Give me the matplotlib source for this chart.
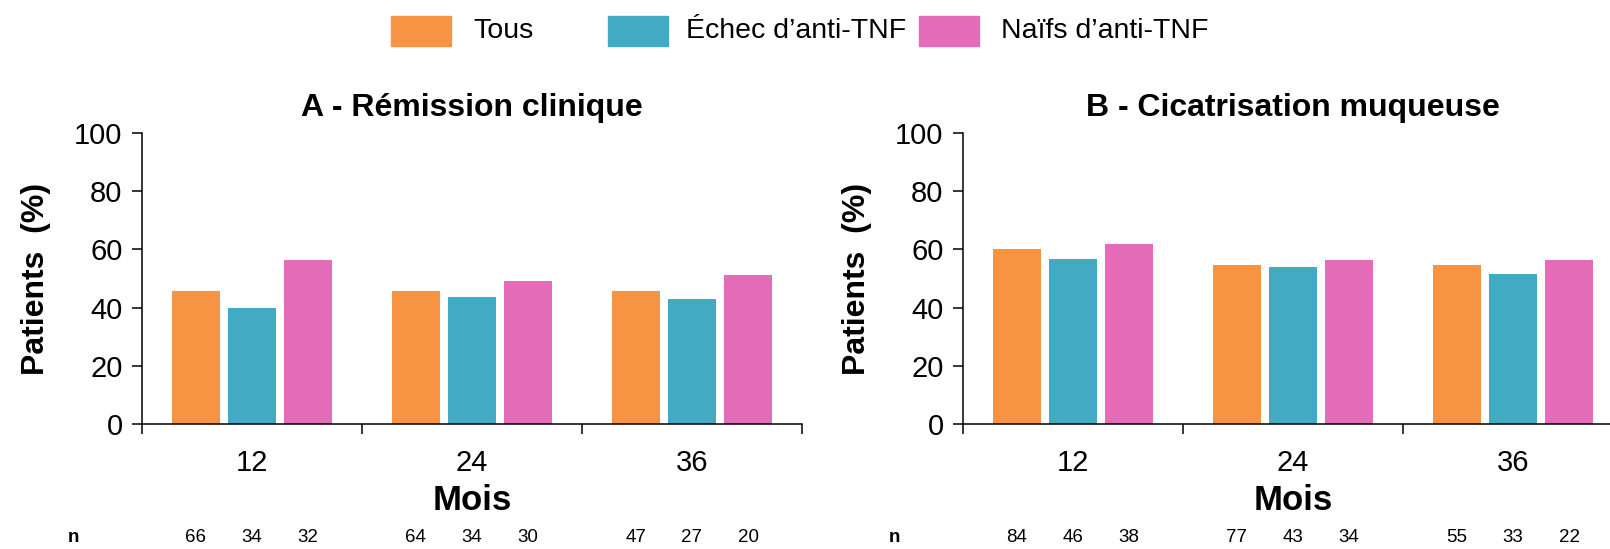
import matplotlib.pyplot as plt
import numpy as np
from matplotlib.patches import Rectangle
from matplotlib.transforms import blended_transform_factory

plt.rcParams['font.family'] = ['Liberation Sans', 'DejaVu Sans']

months = ['12', '24', '36']
series = ['Tous', 'Échec d’anti-TNF', 'Naïfs d’anti-TNF']
colors = ['#F79444', '#43AAC4', '#E46CB9']

# % de patients, panneau A (rémission clinique)
remission_tous = [45.8, 45.8, 45.8]
remission_echec = [39.7, 43.8, 43.1]
remission_naifs = [56.4, 49.0, 51.1]
remission_n = [[66, 34, 32], [64, 34, 30], [47, 27, 20]]

# % de patients, panneau B (cicatrisation muqueuse)
cicat_tous = [60.0, 54.8, 54.8]
cicat_echec = [56.7, 54.1, 51.6]
cicat_naifs = [62.0, 56.2, 56.2]
cicat_n = [[84, 46, 38], [77, 43, 34], [55, 33, 22]]

W, H = 1610, 549
fig = plt.figure(figsize=(W / 100, H / 100), dpi=100)


def fx(px):
    return px / W


def fy(py):
    return 1 - py / H


def panel(left_px, title, values, counts):
    ax = fig.add_axes([fx(left_px), fy(424), 660 / W, 291 / H])
    x = np.arange(len(months))
    offsets = [-0.255, 0.0, 0.255]
    for vals, off, col in zip(values, offsets, colors):
        ax.bar(x + off, vals, width=0.215, color=col, zorder=2)

    ax.set_xlim(-0.5, 2.5)
    ax.set_ylim(0, 100)
    ax.set_yticks(range(0, 101, 20))
    ax.tick_params(axis='y', labelsize=21, length=7, width=1.1, pad=7)

    # séparateurs entre groupes en ticks majeurs, mois en ticks mineurs
    ax.set_xticks([-0.5, 0.5, 1.5, 2.5])
    ax.set_xticklabels([])
    ax.tick_params(axis='x', which='major', length=7, width=1.1)
    ax.set_xticks(x, minor=True)
    ax.set_xticklabels(months, minor=True)
    ax.tick_params(axis='x', which='minor', length=0, labelsize=21, pad=18)

    for s in ['top', 'right']:
        ax.spines[s].set_visible(False)
    for s in ['left', 'bottom']:
        ax.spines[s].set_linewidth(1.1)

    ax.set_title(title, fontsize=23, fontweight='bold', pad=12)
    ax.set_ylabel('Patients  (%)', fontsize=23, fontweight='bold', va='center')
    ax.yaxis.set_label_coords(-106 / 660, 0.5)
    ax.set_xlabel('Mois', fontsize=25, fontweight='bold')
    ax.xaxis.set_label_coords(0.5, -0.205)

    # effectifs sous chaque barre
    tr = blended_transform_factory(ax.transData, fig.transFigure)
    for i, row in enumerate(counts):
        for off, n in zip(offsets, row):
            ax.text(i + off, fy(538), str(n), transform=tr, ha='center',
                    va='center', fontsize=13.5, clip_on=False)
    tr_n = blended_transform_factory(ax.transAxes, fig.transFigure)
    ax.text(-69 / 660, fy(538), 'n', transform=tr_n, ha='center', va='center',
            fontsize=13.5, fontweight='bold')
    return ax


panel(142, 'A - Rémission clinique',
      [remission_tous, remission_echec, remission_naifs], remission_n)
panel(963, 'B - Cicatrisation muqueuse',
      [cicat_tous, cicat_echec, cicat_naifs], cicat_n)

# légende commune en haut
patch_x = [391, 608, 919]
text_x = [473, 686, 1001]
for px, tx, col, lab in zip(patch_x, text_x, colors, series):
    fig.add_artist(Rectangle((fx(px), fy(46)), 60 / W, 30 / H,
                             transform=fig.transFigure, color=col))
    fig.text(fx(tx), fy(31), lab, fontsize=20.5, va='center', ha='left')

fig.savefig('out.png', dpi=100)
